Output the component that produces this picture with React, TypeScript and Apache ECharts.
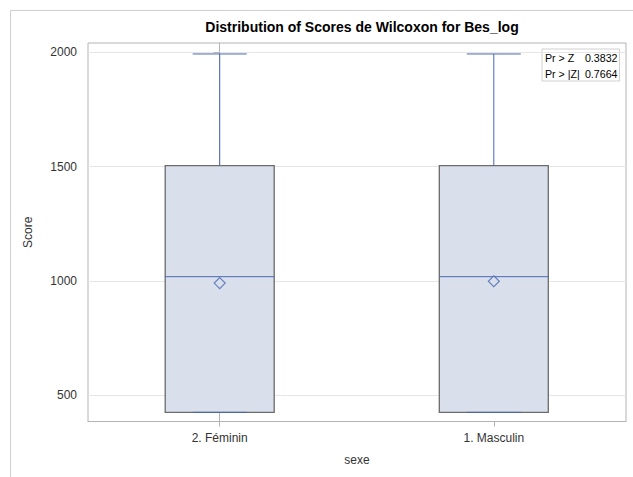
import React, { useEffect, useRef } from "react";
import * as echarts from "echarts";

const categories = ["2. Féminin", "1. Masculin"];
const whiskerLow = [424, 424];
const q1 = [424, 424];
const median = [1018, 1018];
const q3 = [1504, 1504];
const whiskerHigh = [1993, 1993];
const means = [990, 998];
const yTicks = [500, 1000, 1500, 2000];
const insetLabels = ["Pr > Z", "Pr > |Z|"];
const insetValues = ["0.3832", "0.7664"];

const BLUE = "#4a67b3";
const BOX_FILL = "#d9e0eb";
const BOX_EDGE = "#6b6b6b";
const FONT = "Liberation Sans, Arial, sans-serif";

export default function App() {
  const ref = useRef<HTMLDivElement>(null);
  useEffect(() => {
    if (!ref.current) return;
    const chart = echarts.init(ref.current, undefined, { renderer: "svg" });
    const boxData = categories.map((_, i) => [i, whiskerLow[i], q1[i], median[i], q3[i], whiskerHigh[i]]);
    const meanData = categories.map((_, i) => [i, means[i]]);
    const xIdx = categories.map((_, i) => i);
    const option: any = {
      animation: false,
      backgroundColor: "#ffffff",
      textStyle: { fontFamily: FONT },
      title: {
        text: "Distribution of Scores de Wilcoxon for Bes_log",
        left: 357,
        top: 15,
        textAlign: "center",
        textStyle: { fontFamily: FONT, fontSize: 14, fontWeight: "bold", color: "#000" },
      },
      grid: { left: 88, right: 7, top: 43, bottom: 55.5, show: true, borderColor: "#b4b4b4", borderWidth: 1 },
      xAxis: {
        type: "value",
        min: -0.4805,
        max: 1.4823,
        name: "sexe",
        nameLocation: "middle",
        nameGap: 32,
        nameTextStyle: { fontSize: 12, color: "#333", fontFamily: FONT },
        axisLine: { show: true, lineStyle: { color: "#b4b4b4" } },
        axisTick: { show: true, length: 5, customValues: xIdx, lineStyle: { color: "#b4b4b4" } },
        axisLabel: {
          customValues: xIdx,
          margin: 10,
          fontSize: 12,
          color: "#333",
          fontFamily: FONT,
          formatter: (v: number) => categories[Math.round(v)] ?? "",
        },
        splitLine: { show: false },
      },
      yAxis: {
        type: "value",
        min: 384,
        max: 2041,
        name: "Score",
        nameLocation: "middle",
        nameGap: 54,
        nameRotate: 90,
        nameTextStyle: { fontSize: 12, color: "#333", fontFamily: FONT },
        axisLine: { show: true, lineStyle: { color: "#b4b4b4" } },
        axisTick: { show: true, length: 6, customValues: yTicks, lineStyle: { color: "#b4b4b4" } },
        axisLabel: {
          customValues: yTicks,
          margin: 11,
          fontSize: 12,
          color: "#333",
          fontFamily: FONT,
          formatter: (v: number) => String(v),
        },
        splitLine: { show: true, lineStyle: { color: "#e6e6e6" } },
      },
      series: [
        {
          type: "custom",
          data: boxData,
          encode: { x: 0, y: [1, 2, 3, 4, 5] },
          renderItem: (params: any, api: any) => {
            const c = api.value(0);
            const x = api.coord([c, 0])[0];
            const yLow = api.coord([c, api.value(1)])[1];
            const yQ1 = api.coord([c, api.value(2)])[1];
            const yMed = api.coord([c, api.value(3)])[1];
            const yQ3 = api.coord([c, api.value(4)])[1];
            const yHigh = api.coord([c, api.value(5)])[1];
            const hw = 54.5;
            const cw = 27;
            const blue = { stroke: BLUE, lineWidth: 1 };
            return {
              type: "group",
              children: [
                { type: "line", shape: { x1: x, y1: yQ3, x2: x, y2: yHigh }, style: blue },
                { type: "line", shape: { x1: x, y1: yQ1, x2: x, y2: yLow }, style: blue },
                {
                  type: "rect",
                  shape: { x: x - hw, y: yQ3, width: hw * 2, height: yQ1 - yQ3 },
                  style: { fill: BOX_FILL, stroke: BOX_EDGE, lineWidth: 1.3 },
                },
                { type: "line", shape: { x1: x - cw, y1: yHigh, x2: x + cw, y2: yHigh }, style: blue },
                { type: "line", shape: { x1: x - cw, y1: yLow, x2: x + cw, y2: yLow }, style: blue },
                { type: "line", shape: { x1: x - hw, y1: yMed, x2: x + hw, y2: yMed }, style: blue },
              ],
            };
          },
          z: 2,
        },
        {
          type: "scatter",
          data: meanData,
          symbol: "diamond",
          symbolSize: [11, 11],
          itemStyle: { color: BOX_FILL, borderColor: BLUE, borderWidth: 1.2 },
          z: 3,
        },
      ],
      graphic: [
        {
          type: "rect",
          shape: { x: 10.5, y: 10.5, width: 700, height: 700 },
          style: { fill: "none", stroke: "#cfcfcf", lineWidth: 1 },
          silent: true,
          z: -1,
        },
        {
          type: "group",
          left: 541.5,
          top: 48.5,
          children: [
            {
              type: "rect",
              shape: { x: 0, y: 0, width: 77.5, height: 32 },
              style: { fill: "#ffffff", stroke: "#d0d0d0", lineWidth: 1 },
            },
            ...insetLabels.map((t, i) => ({
              type: "text",
              x: 3,
              y: 8.5 + i * 16.5,
              style: { text: t, fontSize: 10.67, fill: "#000", fontFamily: FONT, verticalAlign: "middle" },
            })),
            ...insetValues.map((t, i) => ({
              type: "text",
              x: 75.5,
              y: 8.5 + i * 16.5,
              style: { text: t, fontSize: 10.67, fill: "#000", fontFamily: FONT, align: "right", verticalAlign: "middle" },
            })),
          ],
        },
      ],
    };
    chart.setOption(option);
    return () => chart.dispose();
  }, []);
  return <div ref={ref} style={{ position: "fixed", left: 0, top: 0, width: 633, height: 477 }} />;
}
